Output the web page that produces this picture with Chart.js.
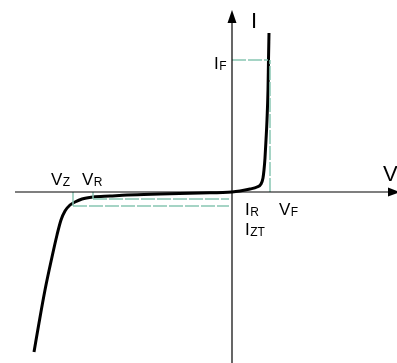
<!DOCTYPE html>
<html lang="en">
<head>
  <meta charset="UTF-8" />
  <title>Zener diode I-V curve</title>
  <script src="https://cdn.jsdelivr.net/npm/chart.js"></script>
  <style>
    html, body { margin: 0; padding: 0; background: #fff; }
    #wrap { width: 397px; height: 363px; position: relative; }
  </style>
</head>
<body>
  <div id="wrap"><canvas id="ivChart"></canvas></div>

  <script>
    // characteristic curve, reverse branch then forward branch (x = V, y = I)
    const curveV = [-19.8, -19.3, -18.7, -18.0, -17.5, -17.1, -16.7, -16.2, -15.7, -15.0, -13.9, -12.2, -10.5, -7.2, -3.2, 0,
                    0.8, 1.8, 2.5, 2.9, 3.1, 3.2, 3.3, 3.4, 3.5, 3.6, 3.65, 3.7];
    const curveI = [-16.0, -13.1, -9.8, -6.5, -4.3, -2.8, -1.9, -1.3, -1.0, -0.7, -0.5, -0.4, -0.3, -0.2, -0.1, 0,
                    0.1, 0.3, 0.5, 0.8, 1.4, 2.2, 3.4, 5.2, 7.2, 10.2, 13.2, 15.9];

    // marked operating points
    const vZ = -15.9, vR = -13.9, vF = 3.8;
    const iF = 13.2, iR = -0.7, iZT = -1.4;
    const refEnd = -0.3;

    // axis extent
    const vMin = -21.7, vMax = 16.5;
    const iMin = -17.1, iMax = 18.2;

    const pts = (xs, ys) => xs.map((x, i) => ({ x: x, y: ys[i] }));

    const teal = '#88c6b3';
    const guide = (data) => ({
      data: data, showLine: true, pointRadius: 0, borderColor: teal,
      borderWidth: 1.5, borderDash: [14, 2], tension: 0
    });
    const axis = (data) => ({
      data: data, showLine: true, pointRadius: 0, borderColor: '#000',
      borderWidth: 1.2, tension: 0
    });

    const labels = [
      { t: 'I', s: '', x: 1.9, y: 16.4, big: true },
      { t: 'V', s: '', x: 15.1, y: 1.1, big: true },
      { t: 'I', s: 'F', x: -1.8, y: 12.3 },
      { t: 'V', s: 'Z', x: -18.1, y: 0.7 },
      { t: 'V', s: 'R', x: -15.0, y: 0.7 },
      { t: 'I', s: 'R', x: 1.3, y: -2.3 },
      { t: 'I', s: 'ZT', x: 1.3, y: -4.3 },
      { t: 'V', s: 'F', x: 4.7, y: -2.3 }
    ];

    const decor = {
      id: 'decor',
      afterDatasetsDraw(chart) {
        const ctx = chart.ctx, sx = chart.scales.x, sy = chart.scales.y;
        ctx.save();
        ctx.fillStyle = '#000';
        // arrow heads
        const ox = sx.getPixelForValue(0), top = sy.getPixelForValue(iMax);
        ctx.beginPath();
        ctx.moveTo(ox, top);
        ctx.lineTo(ox - 4.5, top + 13);
        ctx.lineTo(ox + 4.5, top + 13);
        ctx.closePath();
        ctx.fill();
        const oy = sy.getPixelForValue(0), right = sx.getPixelForValue(vMax) + 3;
        ctx.beginPath();
        ctx.moveTo(right, oy);
        ctx.lineTo(right - 12, oy - 4.5);
        ctx.lineTo(right - 12, oy + 4.5);
        ctx.closePath();
        ctx.fill();
        // text labels with subscripts
        ctx.textBaseline = 'alphabetic';
        labels.forEach(l => {
          const px = sx.getPixelForValue(l.x), py = sy.getPixelForValue(l.y);
          ctx.font = (l.big ? '22px' : '17px') + ' "Liberation Sans", Arial, sans-serif';
          ctx.fillText(l.t, px, py);
          if (l.s) {
            const w = ctx.measureText(l.t).width;
            ctx.font = '12px "Liberation Sans", Arial, sans-serif';
            ctx.fillText(l.s, px + w + 0.5, py + 1);
          }
        });
        ctx.restore();
      }
    };

    new Chart(document.getElementById('ivChart'), {
      type: 'scatter',
      data: {
        datasets: [
          axis([{ x: vMin, y: 0 }, { x: vMax, y: 0 }]),
          axis([{ x: 0, y: iMin }, { x: 0, y: iMax - 0.8 }]),
          guide([{ x: 0, y: iF }, { x: vF - 0.2, y: iF }]),
          guide([{ x: vF, y: 0 }, { x: vF, y: iF }]),
          guide([{ x: vR, y: iR }, { x: refEnd, y: iR }]),
          guide([{ x: vZ, y: iZT }, { x: refEnd, y: iZT }]),
          guide([{ x: vZ, y: 0 }, { x: vZ, y: iZT }]),
          guide([{ x: vR, y: 0 }, { x: vR, y: iR }]),
          {
            data: pts(curveV, curveI), showLine: true, pointRadius: 0,
            borderColor: '#000', borderWidth: 3, cubicInterpolationMode: 'monotone'
          }
        ]
      },
      options: {
        responsive: true,
        maintainAspectRatio: false,
        animation: false,
        layout: { padding: 0 },
        plugins: { legend: { display: false }, tooltip: { enabled: false } },
        scales: {
          x: { type: 'linear', display: false, min: -23.2, max: 16.5 },
          y: { type: 'linear', display: false, min: -17.1, max: 19.2 }
        }
      },
      plugins: [decor]
    });
  </script>
</body>
</html>
